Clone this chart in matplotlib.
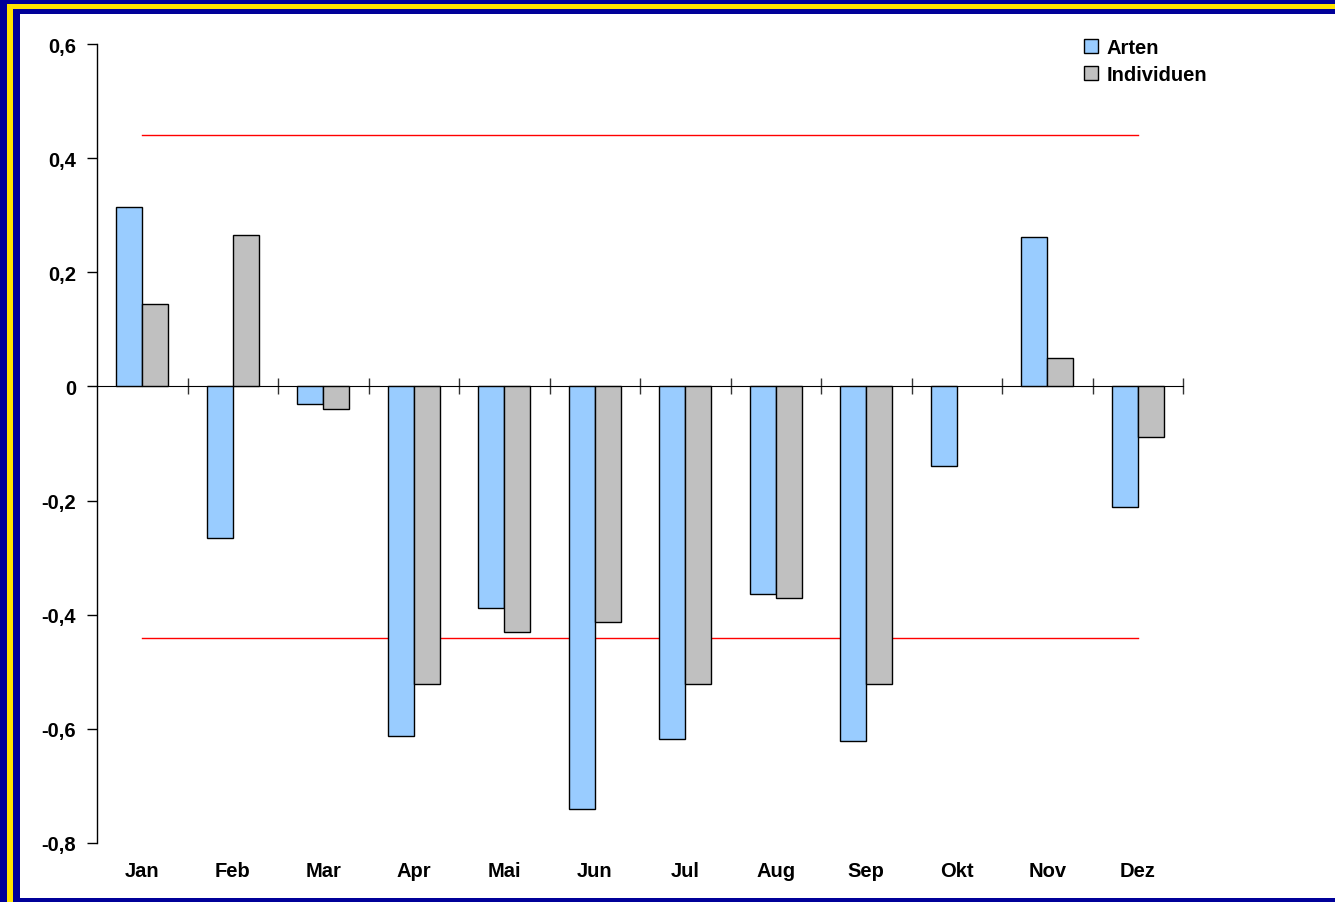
import numpy as np
import matplotlib.pyplot as plt
from matplotlib.patches import Rectangle
from matplotlib.ticker import FuncFormatter

months = ["Jan", "Feb", "Mar", "Apr", "Mai", "Jun", "Jul", "Aug", "Sep", "Okt", "Nov", "Dez"]
arten = [0.314, -0.265, -0.030, -0.612, -0.389, -0.741, -0.617, -0.363, -0.622, -0.140, 0.261, -0.212]
individuen = [0.145, 0.265, -0.040, -0.522, -0.431, -0.412, -0.522, -0.371, -0.522, np.nan, 0.049, -0.089]
upper_limit = [0.44] * 12
lower_limit = [-0.44] * 12

plt.rcParams['font.family'] = ['Liberation Sans', 'DejaVu Sans']
plt.rcParams['font.weight'] = 'bold'

W, H = 1335, 903
fig = plt.figure(figsize=(W / 100, H / 100), dpi=100)
fig.patch.set_facecolor('#000099')

# frame: blue / yellow / blue / white
fig.patches.append(Rectangle((7 / W, 0), 1, (H - 5) / H, transform=fig.transFigure,
                             facecolor='#FFE400', edgecolor='none', zorder=-3))
fig.patches.append(Rectangle((13 / W, 0), 1, (H - 10) / H, transform=fig.transFigure,
                             facecolor='#000099', edgecolor='none', zorder=-2))
fig.patches.append(Rectangle((20 / W, 4 / H), 1, (H - 19) / H, transform=fig.transFigure,
                             facecolor='white', edgecolor='none', zorder=-1))

ax = fig.add_axes([97 / W, 1 - 844 / H, (1183 - 97) / W, (844 - 45) / H])
ax.set_facecolor('none')

x = np.arange(len(months))
bw = 0.287
ax.bar(x - bw / 2, arten, bw, color='#99CCFF', edgecolor='black', linewidth=1, label='Arten', zorder=3)
ax.bar(x + bw / 2, individuen, bw, color='#C0C0C0', edgecolor='black', linewidth=1, label='Individuen', zorder=3)
ax.plot(x, upper_limit, color='#FF0000', linewidth=1, zorder=2)
ax.plot(x, lower_limit, color='#FF0000', linewidth=1, zorder=2)

ax.set_xlim(-0.5, 11.5)
ax.set_ylim(-0.8, 0.6)
ax.set_yticks(np.arange(-0.8, 0.61, 0.2))
ax.yaxis.set_major_formatter(FuncFormatter(
    lambda v, p: "0" if abs(v) < 1e-9 else ("%.1f" % v).replace(".", ",")))

for s in ['top', 'right', 'bottom']:
    ax.spines[s].set_visible(False)
ax.spines['left'].set_linewidth(1)
ax.tick_params(axis='y', direction='out', length=7, width=1, labelsize=14.5, pad=8)
ax.set_xticks(x)
ax.set_xticklabels(months, fontsize=14.5, fontweight='bold')
ax.tick_params(axis='x', length=0, pad=13)

# zero line with category separators
zero_pos = 0.8 / 1.4
sec = ax.secondary_xaxis(zero_pos)
sec.set_xticks(np.arange(0.5, 12, 1.0))
sec.set_xticklabels([])
sec.tick_params(direction='inout', length=12, width=1, color='#333333')
sec.spines['bottom'].set_color('#555555')
sec.spines['bottom'].set_linewidth(1.3)

fig.legend(loc='upper left', bbox_to_anchor=(1066 / W, 1 - 21 / H), frameon=False,
           handlelength=0.7, handleheight=0.7, handletextpad=0.4, labelspacing=0.4,
           prop={'size': 14.5, 'weight': 'bold'})

fig.savefig('out.png', dpi=100, facecolor=fig.get_facecolor())
